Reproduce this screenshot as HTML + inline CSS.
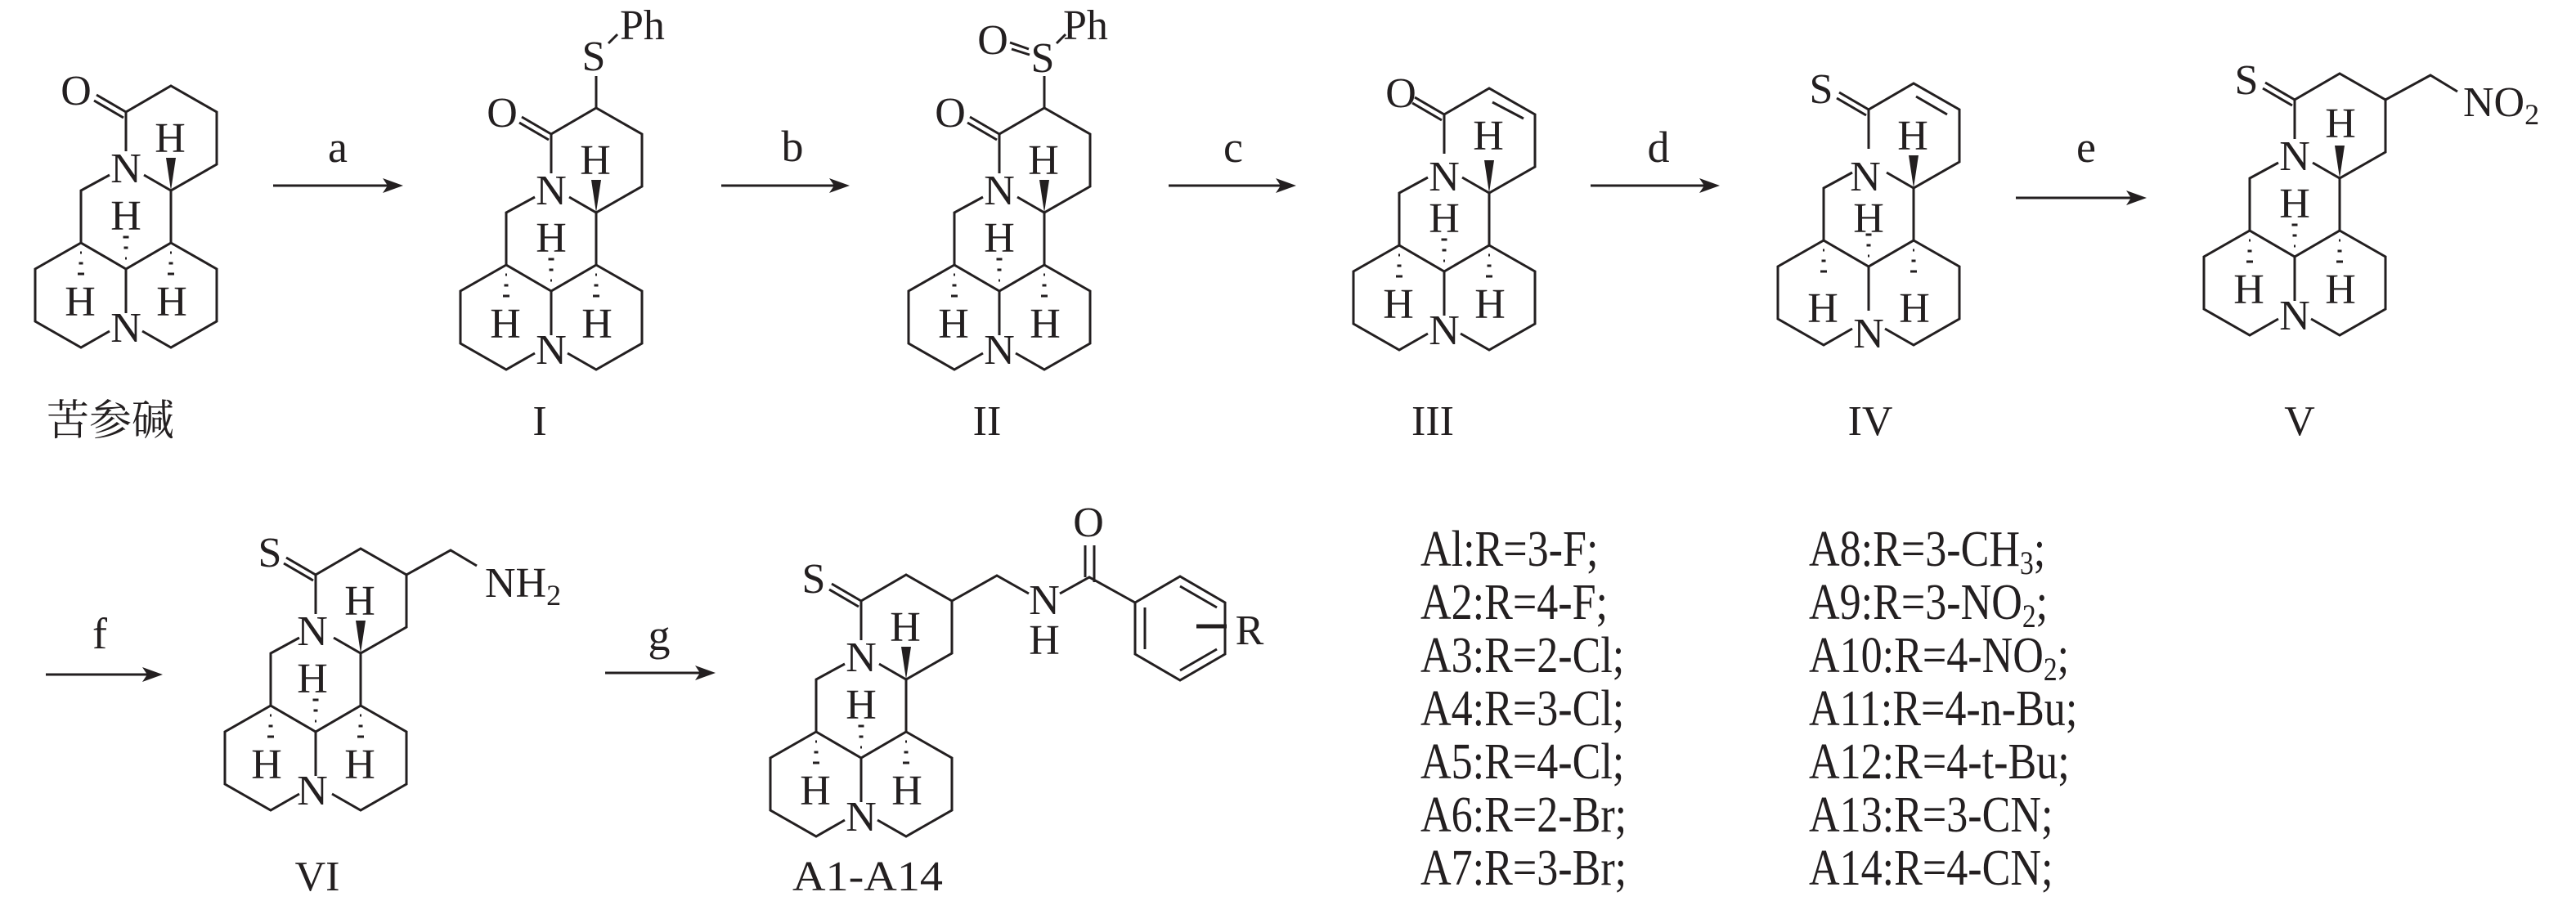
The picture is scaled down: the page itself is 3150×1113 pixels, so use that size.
<!DOCTYPE html>
<html><head><meta charset="utf-8"><style>
html,body{margin:0;padding:0;background:#fff;}
svg{display:block;}
text{font-family:"Liberation Serif","Noto Serif CJK SC",serif;fill:#231f20;}
</style></head><body>
<svg width="3150" height="1113" viewBox="0 0 3150 1113" xmlns="http://www.w3.org/2000/svg">
<defs>
<g id="sk">
 <g stroke="#231f20" stroke-width="3" fill="none" stroke-linejoin="miter">
  <polyline points="0,48 0,0 55,-32 111,0 111,64 55,96 22,77"/>
  <polyline points="-20,77 -55,96 -55,160 0,192 55,160 55,96"/>
  <line x1="0" y1="192" x2="0" y2="246"/>
  <polyline points="-55,160 -111,192 -111,256 -55,288 -20,268"/>
  <polyline points="55,160 111,192 111,256 55,288 20,268"/>
  <line x1="0" y1="0" x2="-36" y2="-21"/>
  <line x1="-3" y1="7" x2="-39" y2="-14"/>
  <line x1="-3.5" y1="153" x2="3.5" y2="153"/>
  <line x1="-2.5" y1="166" x2="2.5" y2="166"/>
  <line x1="-1" y1="179" x2="1" y2="179"/>
  <line x1="-56" y1="172" x2="-54" y2="172"/>
  <line x1="-57.5" y1="185" x2="-52.5" y2="185"/>
  <line x1="-59" y1="198" x2="-51" y2="198"/>
  <line x1="54" y1="172" x2="56" y2="172"/>
  <line x1="52.5" y1="185" x2="57.5" y2="185"/>
  <line x1="51" y1="198" x2="59" y2="198"/>
 </g>
 <polygon points="55,96 49,56 61,56" fill="#231f20"/>
</g>
<marker id="ah" markerWidth="10" markerHeight="10" refX="0" refY="0" orient="auto" viewBox="0 -5 10 10"><path d="M0,-5 L10,0 L0,5 Z" fill="#231f20"/></marker>
</defs>

<!-- arrows -->
<g fill="#231f20" stroke="#231f20" stroke-width="3">
 <line x1="334" y1="227" x2="475" y2="227"/><polygon points="493,227 468,218 474,227 468,236" stroke="none"/>
 <line x1="882" y1="227" x2="1021" y2="227"/><polygon points="1039,227 1014,218 1020,227 1014,236" stroke="none"/>
 <line x1="1429" y1="227" x2="1567" y2="227"/><polygon points="1585,227 1560,218 1566,227 1560,236" stroke="none"/>
 <line x1="1945" y1="227" x2="2085" y2="227"/><polygon points="2103,227 2078,218 2084,227 2078,236" stroke="none"/>
 <line x1="2465" y1="242" x2="2607" y2="242"/><polygon points="2625,242 2600,233 2606,242 2600,251" stroke="none"/>
 <line x1="56" y1="825" x2="181" y2="825"/><polygon points="199,825 174,816 180,825 174,834" stroke="none"/>
 <line x1="740" y1="823" x2="857" y2="823"/><polygon points="875,823 850,814 856,823 850,832" stroke="none"/>
</g>
<g font-size="54" text-anchor="middle">
 <text x="413" y="198">a</text>
 <text x="969" y="197">b</text>
 <text x="1508" y="198">c</text>
 <text x="2028" y="198">d</text>
 <text x="2551" y="198">e</text>
 <text x="122" y="793">f</text>
 <text x="806" y="795">g</text>
</g>

<g font-size="52" text-anchor="middle">
<!-- Matrine -->
<g transform="translate(154,137)">
 <use href="#sk"/>
 <text x="-61" y="-9">O</text>
 <text x="0" y="86">N</text><text x="0" y="281">N</text>
 <text x="54" y="49">H</text><text x="0" y="144">H</text>
 <text x="-56" y="249">H</text><text x="56" y="249">H</text>
</g>
<text x="135" y="532" font-family="Noto Serif CJK SC, serif">苦参碱</text>

<!-- I -->
<g transform="translate(674,164)">
 <use href="#sk"/>
 <line x1="55" y1="-32" x2="55" y2="-71" stroke="#231f20" stroke-width="3"/>
 <line x1="70" y1="-111" x2="81" y2="-122" stroke="#231f20" stroke-width="3"/>
 <text x="-60" y="-9">O</text>
 <text x="52" y="-78">S</text>
 <text x="84" y="-116" text-anchor="start">Ph</text>
 <text x="0" y="86">N</text><text x="0" y="281">N</text>
 <text x="54" y="49">H</text><text x="0" y="144">H</text>
 <text x="-56" y="249">H</text><text x="56" y="249">H</text>
</g>
<text x="660" y="532">I</text>

<!-- II -->
<g transform="translate(1222,164)">
 <use href="#sk"/>
 <line x1="55" y1="-32" x2="55" y2="-71" stroke="#231f20" stroke-width="3"/>
 <line x1="70" y1="-111" x2="81" y2="-122" stroke="#231f20" stroke-width="3"/>
 <line x1="13" y1="-112" x2="36" y2="-104" stroke="#231f20" stroke-width="3"/>
 <line x1="15" y1="-104" x2="37" y2="-97" stroke="#231f20" stroke-width="3"/>
 <text x="-60" y="-9">O</text>
 <text x="-8" y="-98">O</text>
 <text x="53" y="-76">S</text>
 <text x="78" y="-116" text-anchor="start">Ph</text>
 <text x="0" y="86">N</text><text x="0" y="281">N</text>
 <text x="54" y="49">H</text><text x="0" y="144">H</text>
 <text x="-56" y="249">H</text><text x="56" y="249">H</text>
</g>
<text x="1207" y="532">II</text>

<!-- III -->
<g transform="translate(1766,140)">
 <use href="#sk"/>
 <line x1="59" y1="-15" x2="97" y2="5" stroke="#231f20" stroke-width="3"/>
 <text x="-53" y="-9">O</text>
 <text x="0" y="93">N</text><text x="0" y="281">N</text>
 <text x="54" y="43">H</text><text x="0" y="144">H</text>
 <text x="-56" y="249">H</text><text x="56" y="249">H</text>
</g>
<text x="1752" y="532">III</text>

<!-- IV -->
<g transform="translate(2285,134)">
 <use href="#sk"/>
 <line x1="58" y1="-16" x2="96" y2="6" stroke="#231f20" stroke-width="3"/>
 <text x="-58" y="-8">S</text>
 <text x="-4" y="99">N</text><text x="0" y="291">N</text>
 <text x="54" y="49">H</text><text x="0" y="150">H</text>
 <text x="-56" y="260">H</text><text x="56" y="260">H</text>
</g>
<text x="2287" y="532">IV</text>

<!-- V -->
<g transform="translate(2806,122)">
 <use href="#sk"/>
 <polyline points="111,0 166,-30 199,-10" fill="none" stroke="#231f20" stroke-width="3"/>
 <text x="-59" y="-7">S</text>
 <text x="206" y="20" text-anchor="start">NO<tspan font-size="36" dy="10">2</tspan></text>
 <text x="0" y="86">N</text><text x="0" y="281">N</text>
 <text x="56" y="46">H</text><text x="0" y="144">H</text>
 <text x="-56" y="249">H</text><text x="56" y="249">H</text>
</g>
<text x="2812" y="532">V</text>

<!-- VI -->
<g transform="translate(386,703)">
 <use href="#sk"/>
 <polyline points="111,0 165,-30 197,-11" fill="none" stroke="#231f20" stroke-width="3"/>
 <text x="-56" y="-10">S</text>
 <text x="207" y="27" text-anchor="start">NH<tspan font-size="36" dy="10">2</tspan></text>
 <text x="-4" y="86">N</text><text x="-4" y="281">N</text>
 <text x="54" y="49">H</text><text x="-4" y="144">H</text>
 <text x="-60" y="249">H</text><text x="54" y="249">H</text>
</g>
<text x="388" y="1089">VI</text>

<!-- A1-A14 -->
<g transform="translate(1053,735)">
 <use href="#sk"/>
 <text x="-58" y="-10">S</text>
 <text x="0" y="86">N</text><text x="0" y="281">N</text>
 <text x="54" y="49">H</text><text x="0" y="144">H</text>
 <text x="-56" y="249">H</text><text x="56" y="249">H</text>
</g>
<g stroke="#231f20" stroke-width="3" fill="none">
 <polyline points="1164,735 1219,704 1258,726"/>
 <polyline points="1296,726 1332,706 1388,737"/>
 <line x1="1327" y1="667" x2="1327" y2="706"/>
 <line x1="1338" y1="667" x2="1338" y2="712"/>
 <polygon points="1388,737 1443,705 1498,737 1498,800 1443,832 1388,800"/>
 <line x1="1400" y1="743" x2="1400" y2="794"/>
 <line x1="1443" y1="717" x2="1488" y2="743"/>
 <line x1="1443" y1="820" x2="1488" y2="794"/>
 <line x1="1463" y1="766" x2="1500" y2="766" stroke-width="5"/>
</g>
<text x="1331" y="656">O</text>
<text x="1277" y="751">N</text>
<text x="1277" y="800">H</text>
<text x="1528" y="788">R</text>
<text x="1061" y="1089" textLength="184" lengthAdjust="spacingAndGlyphs">A1-A14</text>
</g>

<!-- list -->
<g font-size="62">
 <g transform="translate(1737,0) scale(0.84,1)">
  <text x="0" y="692">Al:R=3-F;</text>
  <text x="0" y="757">A2:R=4-F;</text>
  <text x="0" y="822">A3:R=2-Cl;</text>
  <text x="0" y="887">A4:R=3-Cl;</text>
  <text x="0" y="952">A5:R=4-Cl;</text>
  <text x="0" y="1017">A6:R=2-Br;</text>
  <text x="0" y="1082">A7:R=3-Br;</text>
 </g>
 <g transform="translate(2212,0) scale(0.84,1)">
  <text x="0" y="692">A8:R=3-CH<tspan font-size="40" dy="10">3</tspan><tspan dy="-10">;</tspan></text>
  <text x="0" y="757">A9:R=3-NO<tspan font-size="40" dy="10">2</tspan><tspan dy="-10">;</tspan></text>
  <text x="0" y="822">A10:R=4-NO<tspan font-size="40" dy="10">2</tspan><tspan dy="-10">;</tspan></text>
  <text x="0" y="887">A11:R=4-n-Bu;</text>
  <text x="0" y="952">A12:R=4-t-Bu;</text>
  <text x="0" y="1017">A13:R=3-CN;</text>
  <text x="0" y="1082">A14:R=4-CN;</text>
 </g>
</g>
</svg>
</body></html>
